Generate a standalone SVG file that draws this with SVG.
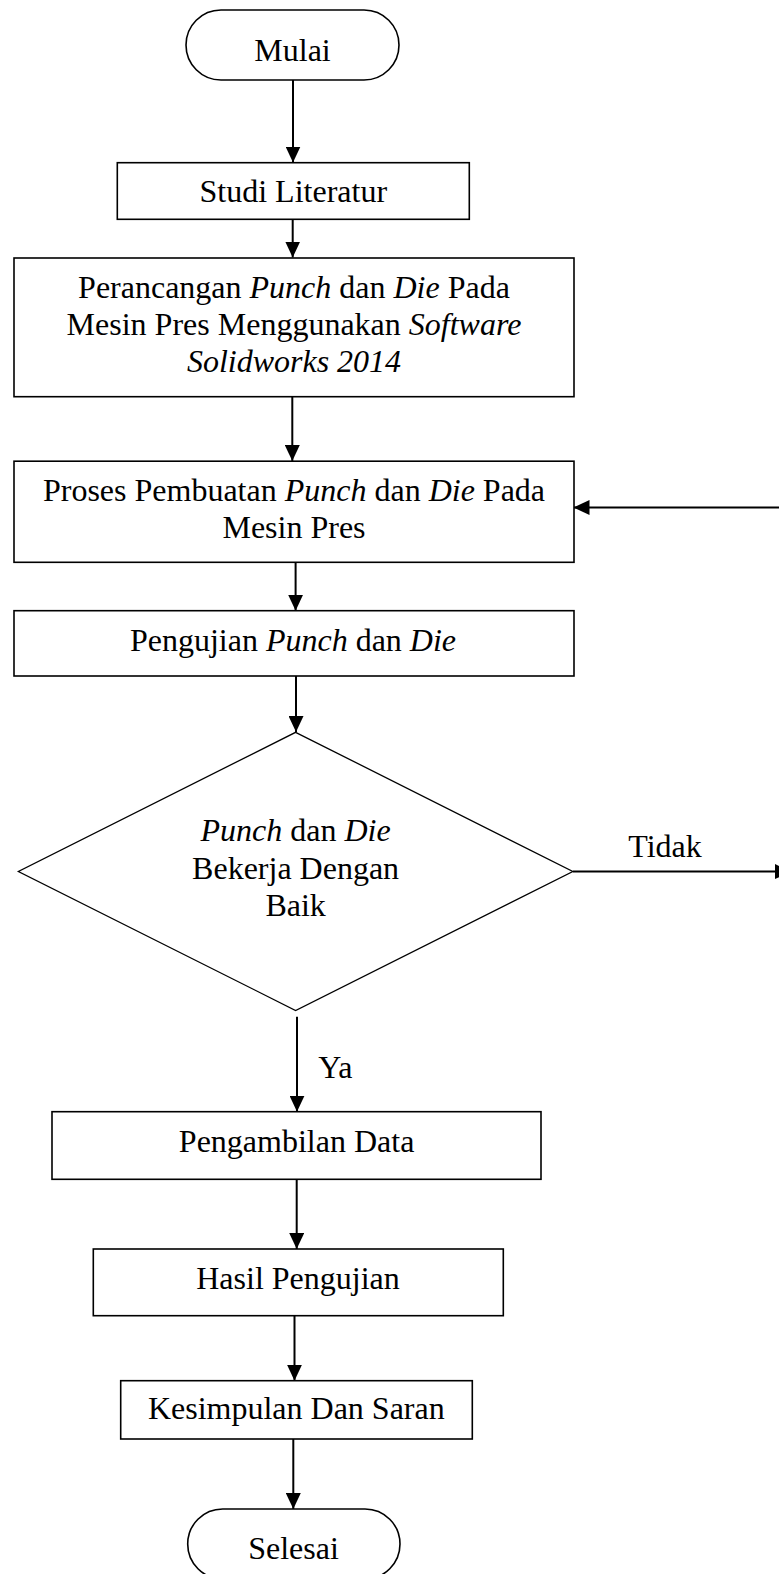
<svg xmlns="http://www.w3.org/2000/svg" width="779" height="1574" viewBox="0 0 779 1574">
<style>
  .shape { fill: #ffffff; stroke: #000000; stroke-width: 1.6; }
  .dia { fill: #ffffff; stroke: #000000; stroke-width: 1.3; }
  .t { font-family: "Liberation Serif", "Times New Roman", serif; font-size: 32px; fill: #000000; text-anchor: middle; }
  .i { font-style: italic; }
  .conn { stroke: #000000; stroke-width: 2; fill: none; marker-end: url(#arr); }
</style>
<defs>
  <marker id="arr" markerUnits="userSpaceOnUse" markerWidth="16" markerHeight="15" refX="16" refY="7.5" orient="auto">
    <path d="M0,0 L16,7.5 L0,15 Z" fill="#000000"/>
  </marker>
  <clipPath id="selclip"><rect x="0" y="1500" width="779" height="59"/></clipPath>
</defs>
<rect x="0" y="0" width="779" height="1574" fill="#ffffff"/>

<g id="connectors">
  <line class="conn" x1="293" y1="80" x2="293" y2="162.5"/>
  <line class="conn" x1="292.7" y1="219.3" x2="292.7" y2="257.5"/>
  <line class="conn" x1="292.3" y1="396.7" x2="292.3" y2="461"/>
  <line class="conn" x1="295.6" y1="562.3" x2="295.6" y2="610.7"/>
  <line class="conn" x1="296" y1="676" x2="296" y2="732"/>
  <line class="conn" x1="297" y1="1016.7" x2="297" y2="1111.7"/>
  <line class="conn" x1="296.7" y1="1179.3" x2="296.7" y2="1249"/>
  <line class="conn" x1="294.5" y1="1315.7" x2="294.5" y2="1380.7"/>
  <line class="conn" x1="293.3" y1="1439" x2="293.3" y2="1509"/>
  <line class="conn" x1="573" y1="871.5" x2="791" y2="871.5"/>
  <line class="conn" x1="800" y1="507.5" x2="573.5" y2="507.5"/>
  <text class="t" x="665" y="856.7">Tidak</text>
  <text class="t" x="335.3" y="1078.3">Ya</text>
</g>

<g id="mulai">
  <rect class="shape" x="186" y="10" width="213" height="70" rx="35" ry="35"/>
  <text class="t" x="292.5" y="60.7">Mulai</text>
</g>

<g id="studi">
  <rect class="shape" x="117.3" y="162.7" width="352" height="56.6"/>
  <text class="t" x="293.3" y="202.3">Studi Literatur</text>
</g>

<g id="perancangan">
  <rect class="shape" x="14" y="258" width="560" height="138.7"/>
  <text class="t" x="294" y="298.3">Perancangan <tspan class="i">Punch</tspan> dan <tspan class="i">Die</tspan> Pada</text>
  <text class="t" x="294" y="335">Mesin Pres Menggunakan <tspan class="i">Software</tspan></text>
  <text class="t i" x="294" y="371.7">Solidworks 2014</text>
</g>

<g id="proses">
  <rect class="shape" x="14" y="461.2" width="560" height="101.1"/>
  <text class="t" x="294" y="501">Proses Pembuatan <tspan class="i">Punch</tspan> dan <tspan class="i">Die</tspan> Pada</text>
  <text class="t" x="294" y="538.3">Mesin Pres</text>
</g>

<g id="pengujian">
  <rect class="shape" x="14" y="610.7" width="560" height="65.3"/>
  <text class="t" x="293" y="650.7">Pengujian <tspan class="i">Punch</tspan> dan <tspan class="i">Die</tspan></text>
</g>

<g id="keputusan">
  <polygon class="dia" points="295.6,732.3 572.8,871.5 295.6,1010.5 18.4,871.5"/>
  <text class="t" x="295.6" y="841"><tspan class="i">Punch</tspan> dan <tspan class="i">Die</tspan></text>
  <text class="t" x="295.6" y="878.5">Bekerja Dengan</text>
  <text class="t" x="295.6" y="916">Baik</text>
</g>

<g id="pengambilan">
  <rect class="shape" x="52" y="1111.7" width="489" height="67.6"/>
  <text class="t" x="296.6" y="1151.7">Pengambilan Data</text>
</g>

<g id="hasil">
  <rect class="shape" x="93.3" y="1249" width="410" height="66.7"/>
  <text class="t" x="298" y="1289">Hasil Pengujian</text>
</g>

<g id="kesimpulan">
  <rect class="shape" x="120.7" y="1380.7" width="351.6" height="58.3"/>
  <text class="t" x="296.3" y="1419.3">Kesimpulan Dan Saran</text>
</g>

<g id="selesai">
  <rect class="shape" x="187.7" y="1509" width="212.3" height="70" rx="35" ry="35"/>
  <text class="t" x="293.5" y="1558.5" clip-path="url(#selclip)">Selesai</text>
</g>
</svg>
